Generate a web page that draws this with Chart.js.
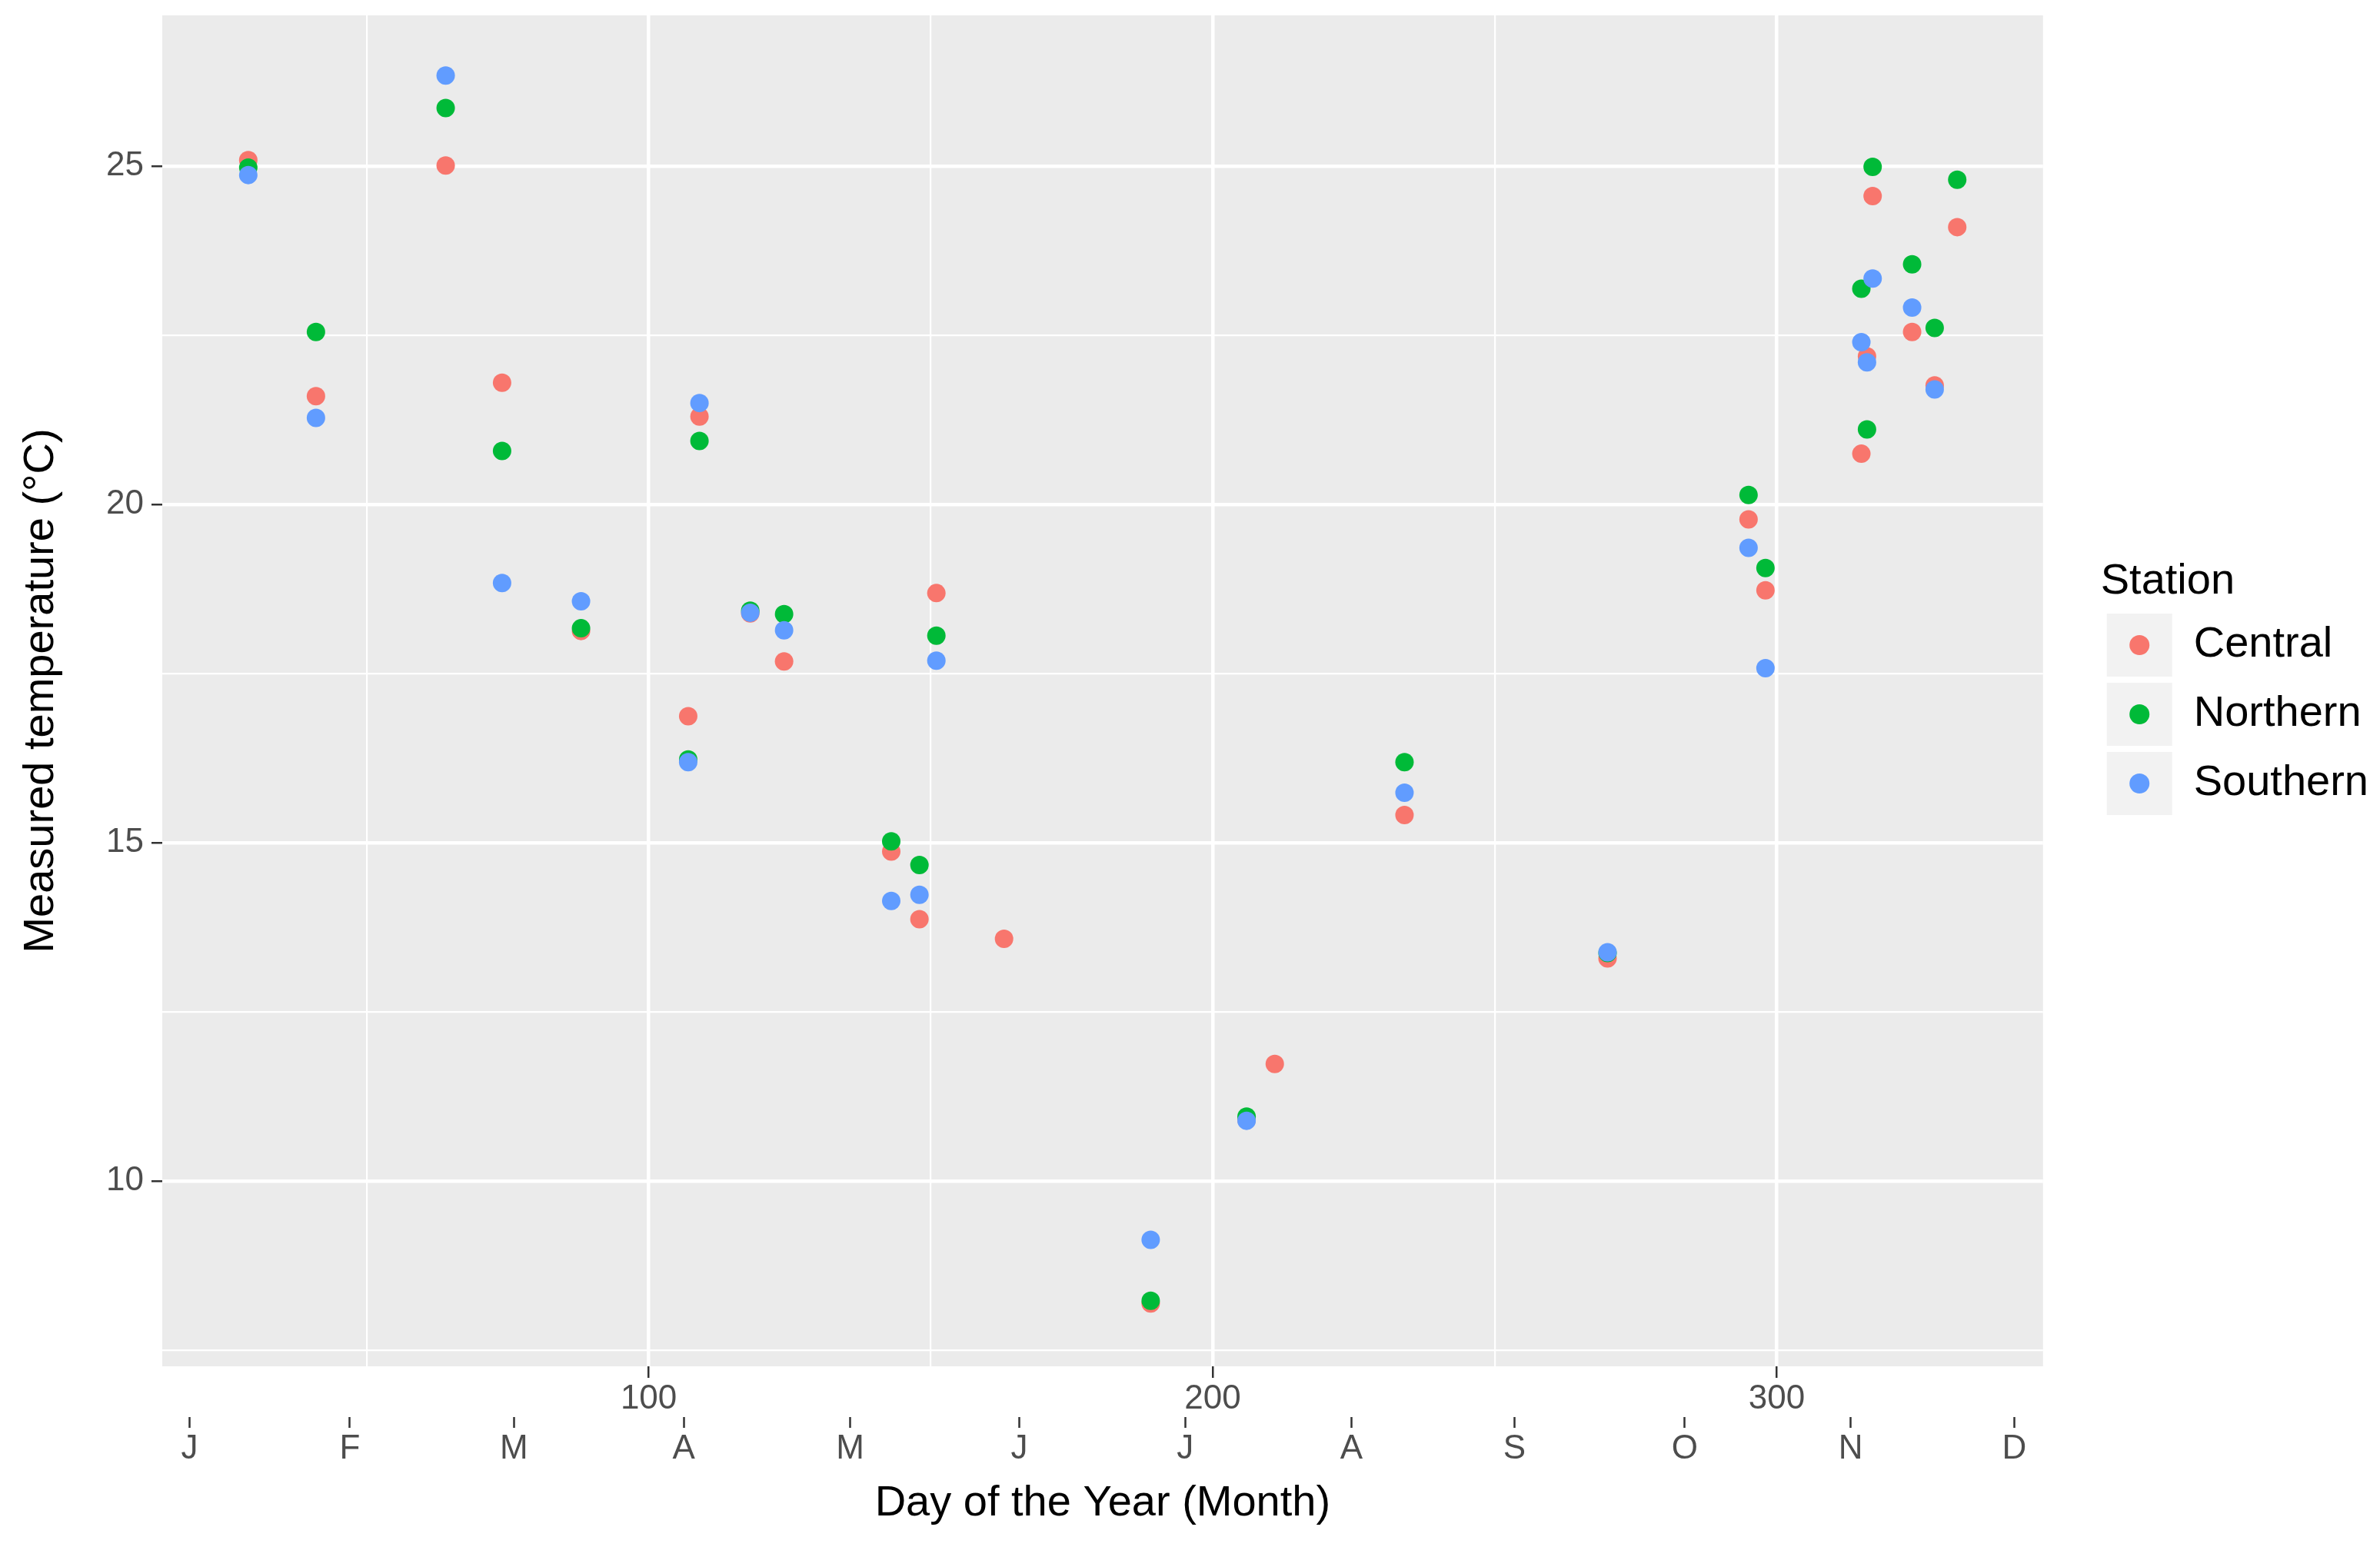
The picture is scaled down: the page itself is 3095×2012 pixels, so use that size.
<!DOCTYPE html>
<html>
<head>
<meta charset="utf-8">
<title>Measured temperature by station</title>
<script src="https://cdn.jsdelivr.net/npm/chart.js@4.4.0/dist/chart.umd.min.js"></script>
<style>
  html, body { margin: 0; padding: 0; background: #ffffff; }
  #wrap { width: 3095px; height: 2012px; }
</style>
</head>
<body>
<div id="wrap"><canvas id="temps"></canvas></div>
<script>
// readings per station: day of the year and measured temperature (°C)
const centralDays  = [29, 41, 64, 74, 88, 107, 109, 118, 124, 143, 148, 151, 163, 189, 206, 211, 234, 270, 295, 298, 315, 316, 317, 324, 328, 332];
const centralTemps = [25.09, 21.60, 25.01, 21.80, 18.13, 16.87, 21.30, 18.39, 17.68, 14.87, 13.87, 18.69, 13.58, 8.19, 10.90, 11.73, 15.41, 13.29, 19.78, 18.73, 20.75, 22.19, 24.56, 22.55, 21.76, 24.10];

const northernDays  = [29, 41, 64, 74, 88, 107, 109, 118, 124, 143, 148, 151, 189, 206, 234, 270, 295, 298, 315, 316, 317, 324, 328, 332];
const northernTemps = [24.98, 22.55, 25.86, 20.79, 18.17, 16.23, 20.94, 18.43, 18.38, 15.02, 14.67, 18.06, 8.23, 10.95, 16.19, 13.37, 20.14, 19.06, 23.19, 21.11, 24.99, 23.55, 22.61, 24.80];

const southernDays  = [29, 41, 64, 74, 88, 107, 109, 118, 124, 143, 148, 151, 189, 206, 234, 270, 295, 298, 315, 316, 317, 324, 328];
const southernTemps = [24.87, 21.28, 26.34, 18.84, 18.57, 16.19, 21.50, 18.40, 18.14, 14.14, 14.23, 17.69, 9.13, 10.89, 15.74, 13.38, 19.36, 17.58, 22.40, 22.10, 23.34, 22.91, 21.70];

const stationNames  = ['Central', 'Northern', 'Southern'];
const stationColors = ['#F8766D', '#00BA38', '#619CFF'];

// secondary axis: month initials at their positions on the day scale
const monthDays   = [18.6, 47.0, 76.1, 106.2, 135.7, 165.7, 195.1, 224.6, 253.5, 283.7, 313.1, 342.1];
const monthLabels = ['J', 'F', 'M', 'A', 'M', 'J', 'J', 'A', 'S', 'O', 'N', 'D'];

const dayMin = 13.75, dayMax = 347.2;
const tempMin = 7.26, tempMax = 27.23;

function toPoints(days, temps) {
  return days.map((d, i) => ({ x: d, y: temps[i] }));
}

Chart.defaults.font.family = '"Liberation Sans", Arial, sans-serif';

const panelBackground = {
  id: 'panelBackground',
  beforeDraw(chart) {
    const { ctx, chartArea: a } = chart;
    ctx.save();
    ctx.fillStyle = '#EBEBEB';
    ctx.fillRect(a.left, a.top, a.right - a.left, a.bottom - a.top);
    ctx.restore();
  }
};

// dots on the grey legend keys
const legendDots = {
  id: 'legendDots',
  afterDraw(chart) {
    const lg = chart.legend;
    if (!lg || !lg.legendHitBoxes) return;
    const ctx = chart.ctx;
    const boxW = lg.options.labels.boxWidth;
    lg.legendItems.forEach((item, i) => {
      const hb = lg.legendHitBoxes[i];
      ctx.save();
      ctx.fillStyle = chart.data.datasets[item.datasetIndex].backgroundColor;
      ctx.beginPath();
      ctx.arc(hb.left + boxW / 2, hb.top + hb.height / 2, 13, 0, Math.PI * 2);
      ctx.fill();
      ctx.restore();
    });
  }
};

const series = [
  toPoints(centralDays, centralTemps),
  toPoints(northernDays, northernTemps),
  toPoints(southernDays, southernTemps)
];

const datasets = stationNames.map((name, i) => ({
  label: name,
  data: series[i],
  backgroundColor: stationColors[i],
  borderWidth: 0,
  pointRadius: 12,
  pointHoverRadius: 12,
  order: 2 - i
}));

const tickText = '#4D4D4D';
const tickMark = '#333333';
const clear = 'rgba(0,0,0,0)';

new Chart(document.getElementById('temps'), {
  type: 'scatter',
  data: { datasets: datasets },
  plugins: [panelBackground, legendDots],
  options: {
    responsive: true,
    maintainAspectRatio: false,
    animation: false,
    events: [],
    layout: { padding: { top: 20, left: 0, right: 5, bottom: 0 } },
    plugins: {
      tooltip: { enabled: false },
      legend: {
        position: 'right',
        fullSize: false,
        title: {
          display: true,
          text: 'Station',
          position: 'start',
          color: '#000000',
          font: { size: 56, lineHeight: 1 },
          padding: { top: 0, bottom: 5 }
        },
        labels: {
          color: '#000000',
          font: { size: 56 },
          boxWidth: 85,
          boxHeight: 82,
          padding: 8,
          sort: (a, b) => a.datasetIndex - b.datasetIndex,
          generateLabels: chart =>
            Chart.defaults.plugins.legend.labels.generateLabels(chart).map(item =>
              Object.assign(item, { fillStyle: '#F2F2F2', strokeStyle: '#F2F2F2', lineWidth: 0 }))
        }
      }
    },
    scales: {
      x: {
        type: 'linear',
        position: 'bottom',
        weight: 0,
        min: dayMin,
        max: dayMax,
        afterFit(scale) { scale.height = 66; },
        border: { display: false },
        grid: {
          color: '#FFFFFF',
          lineWidth: c => (c.tick && c.tick.value % 100 === 0) ? 4.5 : 2.2,
          tickLength: 15,
          tickWidth: 2.5,
          tickColor: c => (c.tick && c.tick.value % 100 === 0) ? tickMark : clear
        },
        ticks: {
          stepSize: 50,
          includeBounds: false,
          autoSkip: false,
          maxRotation: 0,
          padding: 1,
          color: tickText,
          font: { size: 44 },
          callback: v => (v % 100 === 0 ? String(v) : '')
        }
      },
      months: {
        type: 'linear',
        position: 'bottom',
        weight: 1,
        min: dayMin,
        max: dayMax,
        afterBuildTicks(scale) {
          scale.ticks = monthDays.map(v => ({ value: v }));
        },
        afterFit(scale) { scale.height = 169; },
        border: { display: false },
        grid: {
          drawOnChartArea: false,
          tickLength: 14,
          tickWidth: 2.5,
          tickColor: tickMark
        },
        ticks: {
          autoSkip: false,
          maxRotation: 0,
          padding: 1,
          color: tickText,
          font: { size: 44 },
          callback: (v, i) => monthLabels[i]
        },
        title: {
          display: true,
          text: 'Day of the Year (Month)',
          color: '#000000',
          font: { size: 56 },
          padding: { top: 0, bottom: 23 }
        }
      },
      y: {
        type: 'linear',
        position: 'left',
        min: tempMin,
        max: tempMax,
        afterFit(scale) {
          scale.width = 211;
          // the labels sit well inside the panel, no extra room needed above or below
          scale.paddingTop = 0;
          scale.paddingBottom = 0;
        },
        border: { display: false },
        grid: {
          color: '#FFFFFF',
          lineWidth: c => (c.tick && c.tick.value % 5 === 0) ? 4.5 : 2.2,
          tickLength: 14,
          tickWidth: 2.5,
          tickColor: c => (c.tick && c.tick.value % 5 === 0) ? tickMark : clear
        },
        ticks: {
          stepSize: 2.5,
          includeBounds: false,
          padding: 10,
          color: tickText,
          font: { size: 44 },
          callback: v => (v % 5 === 0 ? String(v) : '')
        },
        title: {
          display: true,
          text: 'Measured temperature (°C)',
          color: '#000000',
          font: { size: 56 },
          padding: { top: 20, bottom: 0 }
        }
      },
      // empty right-hand axis, only keeps a gap between the panel and the legend
      gap: {
        type: 'linear',
        position: 'right',
        display: true,
        afterFit(scale) { scale.width = 75; },
        border: { display: false },
        grid: { display: false },
        ticks: { display: false }
      }
    }
  }
});
</script>
</body>
</html>
